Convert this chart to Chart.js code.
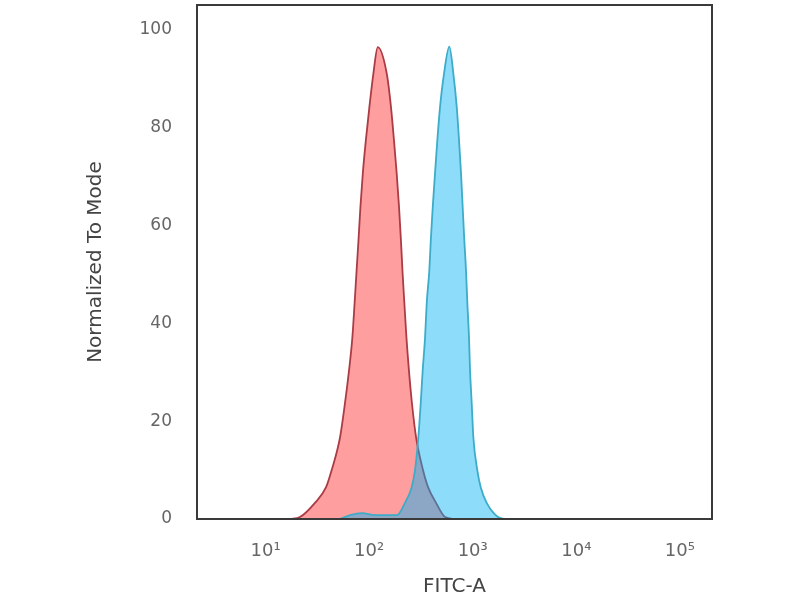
<!DOCTYPE html>
<html>
<head>
<meta charset="utf-8">
<script src="https://cdn.jsdelivr.net/npm/chart.js@4.4.1/dist/chart.umd.min.js"></script>
<style>
  html, body { margin: 0; padding: 0; background: #fff; }
  #wrap { width: 800px; height: 600px; }
</style>
</head>
<body>
<div id="wrap"><canvas id="histo" width="800" height="600"></canvas></div>
<script>
// FITC-A values and "Normalized To Mode" heights
const isotypeX = [17.2, 21.5, 30.0, 38.4, 43.5, 52.4, 58.5, 64.0, 68.9, 72.4, 75.7, 78.9, 82.4, 86.9, 92.9, 100.5, 109.9, 121.1,
                  147.9, 162.6, 173.8, 184.5, 194.4, 202.8, 210.4, 218.8, 229.1, 242.1, 258.8, 283.8, 331.1, 370.4, 442.6, 540.8, 674.5];
const isotypeY = [0, 0.4, 3.3, 6.5, 10.0, 16.7, 23.7, 30.4, 37.1, 44.1, 50.8, 56.9, 63.7, 70.6, 77.3, 84.1, 91.0, 96.4,
                  91.0, 84.1, 77.3, 70.6, 63.7, 56.9, 50.2, 44.1, 37.1, 30.4, 23.7, 16.7, 10.0, 6.5, 3.3, 0.4, 0];

const stainedX = [52.4, 65.5, 85.4, 114.0, 152.2, 185.8, 221.8, 257.6, 277.3, 298.5, 314.8, 328.9, 346.7, 359.7, 381.1, 393.6, 411.1, 432.5, 455.0, 483.1, 528.4, 594.3,
                  650.1, 701.5, 738.0, 770.9, 799.8, 829.8, 861.0, 887.2, 920.5, 941.9, 977.2, 1013.9, 1106.6, 1194.0, 1364.6, 1753.9, 2051.2];
const stainedY = [0, 0.8, 1.2, 0.8, 0.8, 0.8, 3.3, 6.5, 10.0, 16.7, 23.7, 30.4, 37.1, 44.1, 50.8, 56.9, 63.7, 70.6, 77.3, 84.1, 91.0, 96.5,
                  91.0, 84.1, 77.3, 70.6, 63.7, 56.9, 50.8, 44.1, 37.1, 30.4, 23.7, 16.7, 10.0, 6.5, 3.3, 0.4, 0];

const xTickValues = [10, 100, 1000, 10000, 100000];
const xTickLabels = ['10¹', '10²', '10³', '10⁴', '10⁵'];
const yTickValues = [0, 20, 40, 60, 80, 100];

function toPoints(xs, ys) {
    return xs.map((x, i) => ({x: x, y: ys[i]}));
}

// closed frame around the plot, like the FlowJo export
const frameBox = {
    id: 'frameBox',
    afterDatasetsDraw(chart) {
        const a = chart.chartArea;
        const c = chart.ctx;
        c.save();
        c.strokeStyle = '#3a3a3a';
        c.lineWidth = 2;
        c.strokeRect(a.left, a.top, a.right - a.left, a.bottom - a.top);
        c.restore();
    }
};

const ctx = document.getElementById('histo');
const histo = new Chart(ctx, {
    type: 'line',
    data: {
        datasets: [
        { // stained sample, blue
            label: 'FITC',
            data: toPoints(stainedX, stainedY),
            borderColor: 'rgb(60,172,200)',
            backgroundColor: 'rgba(0,178,244,0.45)',
            borderWidth: 1.8,
            fill: 'origin',
            pointRadius: 0,
            cubicInterpolationMode: 'monotone',
            order: 0
        },
        { // isotype control, red
            label: 'Isotype',
            data: toPoints(isotypeX, isotypeY),
            borderColor: 'rgb(170,60,70)',
            backgroundColor: 'rgb(255,158,158)',
            borderWidth: 1.8,
            fill: 'origin',
            pointRadius: 0,
            cubicInterpolationMode: 'monotone',
            order: 1
        }
        ]
    },
    options: {
        responsive: false,
        animation: false,
        layout: { padding: { left: 80, right: 88, top: 5, bottom: 0 } },
        plugins: {
            legend: { display: false },
            tooltip: { enabled: false }
        },
        scales: {
            x: {
                type: 'logarithmic',
                min: 2.18,
                max: 204000,
                grid: { display: false, drawTicks: false },
                border: { display: false },
                afterBuildTicks: (s) => { s.ticks = xTickValues.map(v => ({value: v})); },
                afterFit: (s) => { s.height = 81; s.paddingLeft = 0; s.paddingRight = 0; },
                ticks: {
                    autoSkip: false,
                    maxRotation: 0,
                    padding: 22,
                    color: '#666',
                    font: { family: 'DejaVu Sans', size: 18 },
                    callback: (v) => xTickLabels[xTickValues.indexOf(v)]
                },
                title: {
                    display: true,
                    text: 'FITC-A',
                    color: '#444',
                    font: { family: 'DejaVu Sans', size: 20 },
                    padding: { top: 0, bottom: 1 }
                }
            },
            y: {
                min: 0,
                max: 105,
                grid: { display: false, drawTicks: false },
                border: { display: false },
                afterBuildTicks: (s) => { s.ticks = yTickValues.map(v => ({value: v})); },
                afterFit: (s) => { s.width = 117; s.paddingTop = 0; s.paddingBottom = 0; },
                ticks: {
                    padding: 25,
                    color: '#666',
                    font: { family: 'DejaVu Sans', size: 17 }
                },
                title: {
                    display: true,
                    text: 'Normalized To Mode',
                    color: '#444',
                    font: { family: 'DejaVu Sans', size: 20 },
                    padding: { top: 4, bottom: 0 }
                }
            }
        }
    },
    plugins: [frameBox]
});
</script>
</body>
</html>
